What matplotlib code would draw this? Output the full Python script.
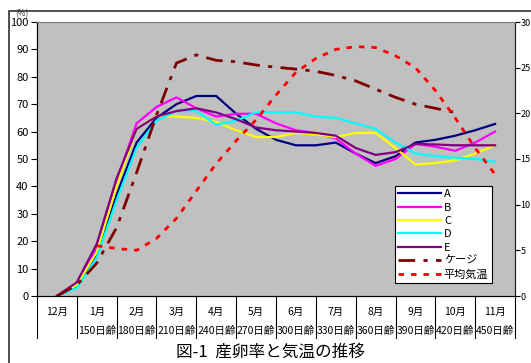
import matplotlib
matplotlib.use("Agg")
import matplotlib.pyplot as plt
from matplotlib.patches import Rectangle
import numpy as np

plt.rcParams['font.family'] = ['Noto Sans CJK JP', 'DejaVu Sans']

# x positions in months from 12月 (half-month steps)
x = np.arange(23) * 0.5
A = [0, 3.3, 15, 37, 56, 65, 70, 73, 73, 66.5, 61, 57, 55, 55, 56, 52, 48.5, 51, 56, 57, 58.5, 60.5, 62.8]
B = [0, 4.6, 17.5, 42, 63, 69, 72.5, 68.5, 65.5, 66.5, 66.5, 63, 60.5, 59.5, 57.5, 52, 47.5, 50, 55.5, 54.5, 53, 56, 60]
C = [0, 4, 16, 40, 61, 65.7, 65.5, 65, 63.5, 60.5, 58, 58, 59.5, 59, 58, 59.5, 59.5, 54, 48, 48.5, 49.5, 52, 55]
D = [0, 2.9, 14, 35, 54, 64, 67.5, 67.5, 62.5, 64, 67, 67, 67, 65.5, 65, 63, 61, 56, 52, 51, 50.5, 50, 49]
E = [0, 5, 19, 43, 61, 65.5, 67.5, 68.5, 67, 64.5, 61.5, 60.5, 60, 59.5, 58.5, 54, 51.5, 52.5, 55.5, 55.3, 55, 55, 55]
cage_x = np.arange(21) * 0.5
cage = [0, 4, 12, 25, 45, 66, 85, 88, 86, 85.5, 84.3, 83.5, 82.8, 82, 80.5, 78.5, 75.5, 72.5, 70, 68.5, 67]
temp_x = np.arange(2, 23) * 0.5
temp = [5.5, 5.2, 5.0, 6.3, 8.5, 11.5, 14.5, 17, 19.3, 22, 24.5, 26, 27, 27.3, 27.2, 26.3, 25, 22.5, 19.5, 16.2, 13.3]

months = ['12月', '1月', '2月', '3月', '4月', '5月', '6月', '7月', '8月', '9月', '10月', '11月']
ages = ['', '150日齢', '180日齢', '210日齢', '240日齢', '270日齢', '300日齢', '330日齢',
        '360日齢', '390日齢', '420日齢', '450日齢']

fig = plt.figure(figsize=(5.31, 3.63), dpi=100)
ax = fig.add_axes([37/531, 67/363, 478/531, 274/363])
ax.set_facecolor('#C0C0C0')

lw = 1.6
ax.plot(x, A, color='#000080', lw=lw, label='A')
ax.plot(x, B, color='#FF00FF', lw=lw, label='B')
ax.plot(x, C, color='#FFFF00', lw=lw, label='C')
ax.plot(x, D, color='#00FFFF', lw=lw, label='D')
ax.plot(x, E, color='#800080', lw=lw, label='E')
ax.plot(cage_x, cage, color='#800000', lw=2, linestyle=(0, (6, 3, 1.5, 3)), label='ケージ')

ax.set_xlim(-0.5, 11.5)
ax.set_ylim(0, 100)
ax.set_yticks(range(0, 101, 10))
ax.set_xticks([])
ax.tick_params(axis='y', labelsize=8, length=4, direction='out', pad=2)
for s in ['left', 'bottom', 'right']:
    ax.spines[s].set_color('#202020')
ax.spines['top'].set_color('#808080')

ax2 = ax.twinx()
ax2.plot(temp_x, temp, color='#FF0000', lw=2, linestyle=(0, (2, 2.5)), label='平均気温')
ax2.set_ylim(0, 30)
ax2.set_yticks(range(0, 31, 5))
ax2.tick_params(axis='y', labelsize=6.5, length=3.5, direction='out', pad=0.5)
ax2.spines['right'].set_color('#202020')
ax2.spines['top'].set_color('#808080')

h1, l1 = ax.get_legend_handles_labels()
h2, l2 = ax2.get_legend_handles_labels()
leg = ax2.legend(h1 + h2, l1 + l2, loc='lower left', bbox_to_anchor=(0.749, 0.047),
                 borderaxespad=0, fontsize=8, handlelength=3.8, labelspacing=0.3,
                 borderpad=0.3, handletextpad=0.3, fancybox=False, framealpha=1,
                 edgecolor='black')
leg.get_frame().set_linewidth(0.8)

ax.text(-0.045, 1.03, '(%)', transform=ax.transAxes, fontsize=6, ha='left', va='center',
        color='#404040')

# category separators and labels
trans = ax.get_xaxis_transform()
for i in range(13):
    ax.plot([i - 0.5, i - 0.5], [0, -0.153], transform=trans, color='black', lw=0.8,
            clip_on=False)
for i, m in enumerate(months):
    ax.text(i, -0.06, m, transform=trans, ha='center', va='center', fontsize=7.5)
    if ages[i]:
        ax.text(i, -0.128, ages[i], transform=trans, ha='center', va='center', fontsize=7.5)

fig.text(270/531, 1 - 352/363, '図-1  産卵率と気温の推移', ha='center', va='center', fontsize=12)

fig.patches.append(Rectangle((9/531, -0.1), 1.2, 1 - 11/363 + 0.1, transform=fig.transFigure,
                             fill=False, edgecolor='#303030', lw=1.2))

fig.savefig('out.png', dpi=100)
